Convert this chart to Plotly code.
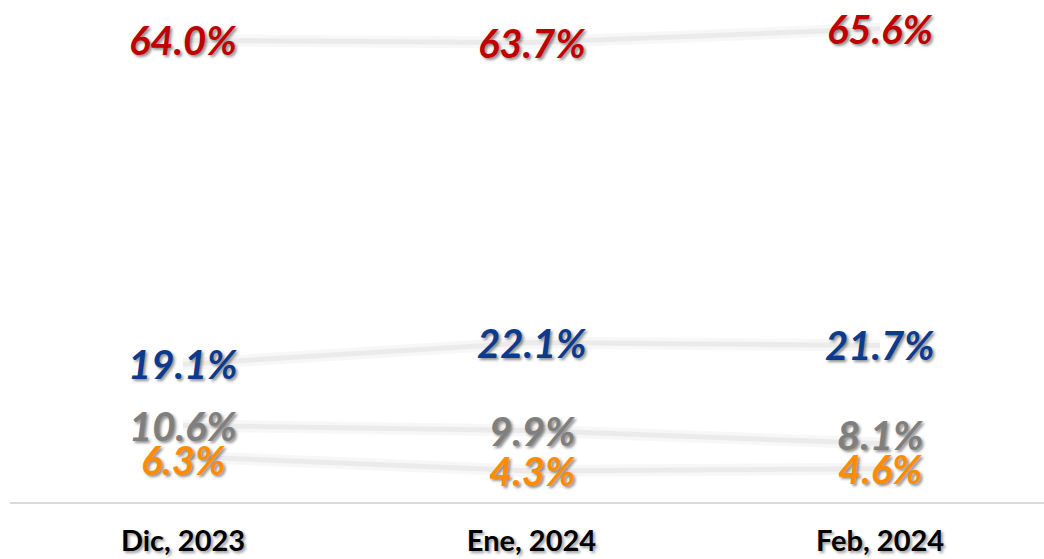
import plotly.graph_objects as go

categories = ["Dic, 2023", "Ene, 2024", "Feb, 2024"]
red_vals = [64.0, 63.7, 65.6]
blue_vals = [19.1, 22.1, 21.7]
gray_vals = [10.6, 9.9, 8.1]
orange_vals = [6.3, 4.3, 4.6]

series = [
    (red_vals, "#C00000", [0, 0, 0]),
    (blue_vals, "#0B3A8F", [0, 0, 0]),
    (gray_vals, "#7F7F7F", [0, 0, 9]),
    (orange_vals, "#FF8C00", [-3, 0, 0]),
]

xpos = list(range(len(categories)))
fig = go.Figure()
annotations = []
for vals, color, shifts in series:
    fig.add_trace(go.Scatter(x=xpos, y=vals, mode="lines",
                             line=dict(color="#f7f7f7", width=12), hoverinfo="skip", showlegend=False))
    fig.add_trace(go.Scatter(x=xpos, y=vals, mode="lines",
                             line=dict(color="#ebebeb", width=5), hoverinfo="skip", showlegend=False))
    for i, v in enumerate(vals):
        annotations.append(dict(
            x=xpos[i], y=v, xref="x", yref="y", text=f"{v:.1f}%", showarrow=False,
            yshift=shifts[i],
            font=dict(family="Lato", size=40, color=color, weight="bold", style="italic",
                      shadow="2px 2px 3px rgba(0,0,0,0.45)"),
        ))

fig.update_layout(
    width=1044, height=559,
    margin=dict(l=10, r=0, t=0, b=57),
    paper_bgcolor="white", plot_bgcolor="white",
    showlegend=False,
    annotations=annotations,
    xaxis=dict(
        range=[-0.4964, 2.4706],
        tickmode="array", tickvals=xpos, ticktext=categories,
        showgrid=False, zeroline=False,
        showline=True, linecolor="#d9d9d9", linewidth=2,
        ticks="", ticklabelstandoff=12,
        tickfont=dict(family="Lato", size=29, color="#000000", weight="bold",
                      shadow="2px 2px 3px rgba(0,0,0,0.4)"),
    ),
    yaxis=dict(range=[0, 69.6], visible=False, showgrid=False, zeroline=False),
)

fig.write_html("out.html", config={"displayModeBar": False},
               post_script="document.body.style.margin='0';")
